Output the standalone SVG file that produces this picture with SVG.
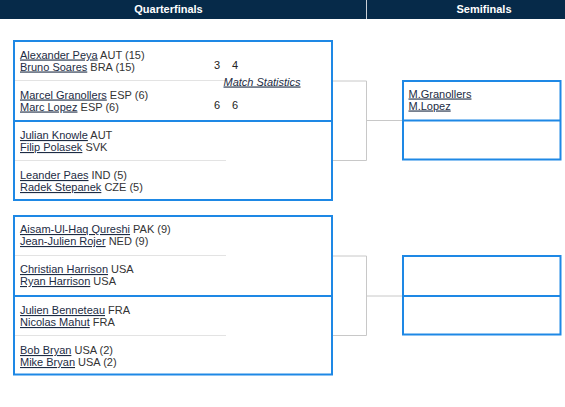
<svg xmlns="http://www.w3.org/2000/svg" width="565" height="407" viewBox="0 0 565 407">
<style>
text{font-family:"Liberation Sans",Arial,sans-serif;font-size:11px;fill:#333}
.hd{font-weight:bold;fill:#ffffff;text-anchor:middle}
.ln{fill:#1d2c44;text-decoration:underline}
.box{fill:#ffffff;stroke:#1e88e5;stroke-width:2}
.div{stroke:#1e88e5;stroke-width:2}
.sep{stroke:#e3e3e3;stroke-width:1}
.con{fill:none;stroke:#c8c8c8;stroke-width:1}
.sc{fill:#222}
.ms{font-style:italic;fill:#1d2c44;text-decoration:underline}
</style>
<rect width="565" height="407" fill="#ffffff"/>
<g id="header">
<rect x="0" y="0" width="565" height="19" fill="#062a49"/>
<line x1="366.5" y1="0" x2="366.5" y2="19" stroke="#c9cfd6" stroke-width="1"/>
<text class="hd" x="168.5" y="12.5">Quarterfinals</text>
<text class="hd" x="484" y="12.5">Semifinals</text>
</g>
<g id="connectors">
<path class="con" d="M332,81 H366.5 V160.5 H332 M366.5,120.5 H403"/>
<path class="con" d="M332,256 H366.5 V335.5 H332 M366.5,296 H403"/>
</g>
<g id="qf-box-top">
<rect class="box" x="14" y="41" width="318" height="159"/>
</g>
<g id="qf1">
<line class="sep" x1="15" y1="80.5" x2="226" y2="80.5"/>
<text x="20" y="58.5"><tspan class="ln">Alexander Peya</tspan> AUT (15)</text>
<text x="20" y="70.5"><tspan class="ln">Bruno Soares</tspan> BRA (15)</text>
<text x="20" y="98.5"><tspan class="ln">Marcel Granollers</tspan> ESP (6)</text>
<text x="20" y="110.5"><tspan class="ln">Marc Lopez</tspan> ESP (6)</text>
<text class="sc" x="214" y="69">3</text>
<text class="sc" x="232" y="69">4</text>
<text class="ms" x="223.5" y="85.5">Match Statistics</text>
<text class="sc" x="214" y="108.5">6</text>
<text class="sc" x="232" y="108.5">6</text>
</g>
<g id="qf2">
<line class="div" x1="14" y1="121" x2="332" y2="121"/>
<line class="sep" x1="15" y1="160.5" x2="226" y2="160.5"/>
<text x="20" y="139"><tspan class="ln">Julian Knowle</tspan> AUT</text>
<text x="20" y="151"><tspan class="ln">Filip Polasek</tspan> SVK</text>
<text x="20" y="179"><tspan class="ln">Leander Paes</tspan> IND (5)</text>
<text x="20" y="191"><tspan class="ln">Radek Stepanek</tspan> CZE (5)</text>
</g>
<g id="qf-box-bottom">
<rect class="box" x="14" y="216" width="318" height="158.5"/>
</g>
<g id="qf3">
<line class="sep" x1="15" y1="255.5" x2="226" y2="255.5"/>
<text x="20" y="233"><tspan class="ln">Aisam-Ul-Haq Qureshi</tspan> PAK (9)</text>
<text x="20" y="245"><tspan class="ln">Jean-Julien Rojer</tspan> NED (9)</text>
<text x="20" y="273"><tspan class="ln">Christian Harrison</tspan> USA</text>
<text x="20" y="285"><tspan class="ln">Ryan Harrison</tspan> USA</text>
</g>
<g id="qf4">
<line class="div" x1="14" y1="296" x2="332" y2="296"/>
<line class="sep" x1="15" y1="335.5" x2="226" y2="335.5"/>
<text x="20" y="314"><tspan class="ln">Julien Benneteau</tspan> FRA</text>
<text x="20" y="326"><tspan class="ln">Nicolas Mahut</tspan> FRA</text>
<text x="20" y="354"><tspan class="ln">Bob Bryan</tspan> USA (2)</text>
<text x="20" y="366"><tspan class="ln">Mike Bryan</tspan> USA (2)</text>
</g>
<g id="sf1">
<rect class="box" x="403" y="81" width="157.5" height="78.5"/>
<line class="div" x1="403" y1="120.5" x2="560.5" y2="120.5"/>
<text x="408.5" y="97.5"><tspan class="ln">M.Granollers</tspan></text>
<text x="408.5" y="109.5"><tspan class="ln">M.Lopez</tspan></text>
</g>
<g id="sf2">
<rect class="box" x="403" y="256" width="157.5" height="78.5"/>
<line class="div" x1="403" y1="296" x2="560.5" y2="296"/>
</g>
</svg>
